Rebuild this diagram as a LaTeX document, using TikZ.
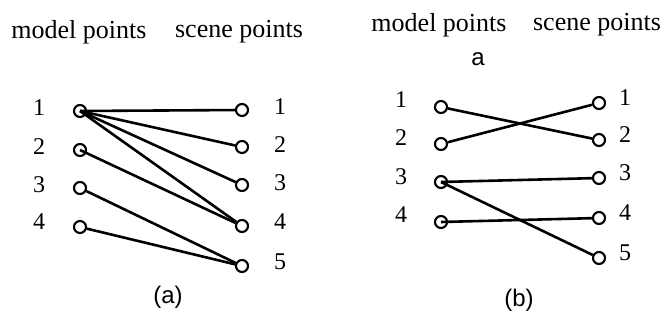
\documentclass[tikz,border=0pt]{standalone}
\usepackage{fontspec}
\setmainfont{Liberation Serif}
\newfontfamily\capfont{Liberation Sans}
\begin{document}
\begin{tikzpicture}[x=1pt,y=-1pt,
  pt/.style={circle,draw,line width=2.1pt,minimum size=12pt,inner sep=0pt,fill=white},
  head/.style={font=\fontsize{26}{28}\selectfont},
  num/.style={font=\fontsize{24}{26}\selectfont},
  captext/.style={font=\capfont\fontsize{24}{26}\selectfont},
  link/.style={line width=2.6pt}]
\useasboundingbox (0,0) rectangle (668,326);
% ---------- (a) ----------
\node[head] (ha1) at (79,32) {model points};
\node[head] (ha2) at (239,32) {scene points};
\foreach \i/\y in {1/111,2/150,3/188,4/227}{
  \node[pt] (al\i) at (80,\y) {};
}
\foreach \i/\y in {1/108,2/147,3/185,4/222}{
  \node[num] (alab\i) at (39,\y) {\i};
}
\foreach \i/\y in {1/110,2/147,3/185,4/226,5/266}{
  \node[pt] (ar\i) at (242,\y) {};
}
\foreach \i/\y in {1/107,2/145,3/183,4/222,5/262}{
  \node[num] (arlab\i) at (280,\y) {\i};
}
\draw[link] (al1.center) -- (ar1);
\draw[link] (al1.center) -- (ar2);
\draw[link] (al1.center) -- (ar3);
\draw[link] (al1.center) -- (ar4);
\draw[link] (al2.center) -- (ar4);
\draw[link] (al3) -- (ar5);
\draw[link] (al4) -- (ar5);
\node[captext] (capa) at (168,297) {(a)};
% ---------- (b) ----------
\node[head] (hb1) at (439,25) {model points};
\node[head] (hb2) at (597,25) {scene points};
\node[captext] (capb0) at (478,59) {a};
\foreach \i/\y in {1/107,2/144,3/182,4/222}{
  \node[pt] (bl\i) at (441,\y) {};
}
\foreach \i/\y in {1/100,2/138,3/177,4/215}{
  \node[num] (blab\i) at (401,\y) {\i};
}
\foreach \i/\y in {1/103,2/140,3/178,4/218,5/258}{
  \node[pt] (br\i) at (599,\y) {};
}
\foreach \i/\y in {1/98,2/135,3/173,4/213,5/253}{
  \node[num] (brlab\i) at (625,\y) {\i};
}
\draw[link] (bl1) -- (br2);
\draw[link] (bl2) -- (br1);
\draw[link] (bl3.center) -- (br3);
\draw[link] (bl3.center) -- (br5);
\draw[link] (bl4.center) -- (br4);
\node[captext] (capb) at (519,300) {(b)};
\end{tikzpicture}
\end{document}
